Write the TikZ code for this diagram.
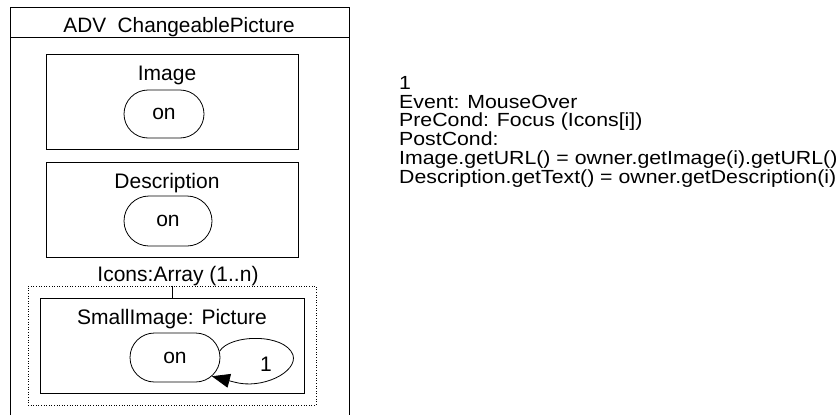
\documentclass[tikz,border=0pt]{standalone}
\usepackage{fontspec}
\setmainfont{Liberation Sans}
\newfontfamily\notefont[FakeStretch=1.12]{Liberation Sans}
\usetikzlibrary{shapes.misc,arrows.meta}
\begin{document}
\begin{tikzpicture}[x=1pt,y=-1pt,
  every node/.style={font=\fontsize{21}{21}\selectfont, inner sep=0pt},
  frame/.style={draw, line width=0.8pt},
  statebox/.style={draw, line width=0.8pt, rounded rectangle, minimum height=48pt},
  lbl/.style={anchor=center}]
\useasboundingbox (0,0) rectangle (840,415);
% outer component frame, open at the bottom
\draw[frame] (10,415) -- (10,7) -- (349,7) -- (349,415);
\draw[frame] (10,37) -- (349,37);
\node[lbl, font=\fontsize{20.8}{21}\selectfont] (title) at (179,27) {ADV\ \ ChangeablePicture};
% Image part
\node[frame, minimum width=252pt, minimum height=95pt] (imgbox) at (172,101.5) {};
\node[lbl] (imglbl) at (167,75) {Image};
\node[statebox, minimum width=80pt] (s1) at (164,114) {on};
% Description part
\node[frame, minimum width=252pt, minimum height=95pt] (descbox) at (172,209.5) {};
\node[lbl] (desclbl) at (167,183) {Description};
\node[statebox, minimum width=88pt, minimum height=50pt] (s2) at (168,221) {on};
% Icons array
\node[lbl] (arrlbl) at (178,276) {Icons:Array (1..n)};
\node[draw, dotted, line width=0.6pt, minimum width=288pt, minimum height=119pt] (arrbox) at (172,345.5) {};
\node[frame, minimum width=264pt, minimum height=95pt] (smallbox) at (172,345.5) {};
\draw[line width=0.6pt] (arrbox.north) -- (smallbox.north);
\node[lbl] (smalllbl) at (172,319) {SmallImage: Picture};
\node[statebox, minimum width=90pt, minimum height=49pt] (s3) at (175,357.5) {on};
% self transition 1
\draw[line width=0.8pt, -{Triangle[length=18pt,width=14pt]}]
  (s3.8) .. controls (230,334) and (285,333) .. (293,355)
  .. controls (298,372) and (262,390) .. (234,382) -- (s3.-27);
\node[lbl] (t1) at (266,364) {1};
% transition description
\node[anchor=north west, align=left, font=\notefont\fontsize{19}{18.8}\selectfont] (note) at (399,76)
 {1\\Event: MouseOver\\PreCond: Focus (Icons[i])\\PostCond:\\Image.getURL() = owner.getImage(i).getURL()\\Description.getText() = owner.getDescription(i)};
\end{tikzpicture}
\end{document}
